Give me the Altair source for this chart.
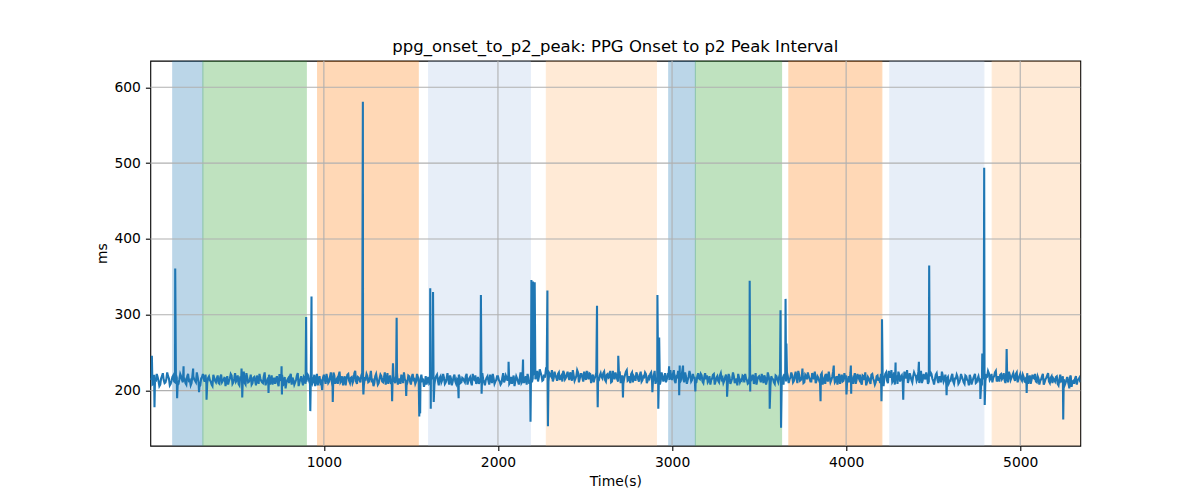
import altair as alt
import pandas as pd

# ---- data -------------------------------------------------------------
title_text = "ppg_onset_to_p2_peak: PPG Onset to p2 Peak Interval"

# baseline samples at t = 5, 15, 25, ... s (ms values)
base_values_a = [
    214, 208, 221, 212, 218, 206, 216, 223, 210, 215, 219, 207, 213, 220, 211, 217, 209, 222, 214, 216,
    210, 219, 213, 207, 220, 215, 211, 218, 205, 216, 222, 212, 209, 217, 214, 208, 221, 213, 216, 210,
    218, 211, 215, 206, 219, 213, 222, 209, 216, 212, 220, 207, 214, 218, 210, 223, 211, 215, 208, 217,
    213, 220, 209, 216, 211, 219, 207, 214, 221, 212, 208, 217, 215, 210, 222, 213, 206, 218, 211, 216,
    219, 208, 214, 211, 220, 206, 215, 212, 218, 209, 222, 213, 216, 210, 221, 214, 207, 219, 212, 217,
    215, 222, 210, 218, 213, 224, 209, 216, 220, 211, 219, 214, 207, 221, 213, 217, 210, 223, 212, 218,
    214, 220, 209, 216, 222, 211, 218, 213, 206, 219, 215, 210, 221, 212, 217, 208, 223, 214, 211, 218,
    213, 219, 208, 216, 221, 210, 215, 207, 220, 212, 218, 214, 209, 222, 211, 216, 213, 205, 219, 214,
    210, 221, 215, 208, 219, 213, 217, 211, 222, 209, 216, 214, 220, 207, 218, 212, 215, 221, 210, 217,
    213, 219, 208, 216, 211, 222, 214, 209, 218, 212, 220, 215, 207, 217, 213, 221, 210, 216, 212, 219,
    214, 208, 217, 211, 220, 213, 209, 218, 215, 206, 219, 212, 216, 210, 221, 214, 208, 217, 213, 211,
    222, 215, 226, 218, 224, 213, 221, 227, 216, 223, 219, 212, 225, 217, 222, 214, 220, 226, 215, 221,
    218, 224, 213, 220, 216, 227, 211, 222, 217, 225, 214, 219, 223, 210, 221, 216, 224, 212, 220, 218,
    223, 214, 221, 217, 226, 212, 219, 224, 215, 222, 210, 220, 216, 225, 213, 219, 222, 211, 217, 224,
    215, 221, 212, 219, 224, 210, 218, 222, 214, 220, 209, 217, 223, 213, 219, 216, 211, 221, 214, 218,
    222, 213, 219, 226, 211, 220, 215, 224, 209, 218, 221, 214, 217, 210, 219, 216, 222, 212, 218, 215,
    211, 219, 214, 221, 208, 217, 213, 220, 215, 210, 218, 212, 222, 209, 216, 219, 213, 207, 217, 214,
    220, 211, 216, 209, 219, 214, 221, 212, 208, 218, 215, 222, 210, 217, 213, 219, 206, 216, 211, 220,
    214, 218, 209, 216, 222, 212, 219, 215, 224, 211, 220, 216, 226, 213, 218, 210, 221, 215, 219, 212,
    223, 215, 210, 219, 213, 221, 208, 217, 222, 212, 218, 214, 225, 211, 219, 216, 209, 221, 213, 217,
    210, 219, 224, 213, 218, 209, 222, 215, 211, 220, 214, 207, 218, 212, 221, 216, 208, 219, 213, 210,
    216, 206, 222, 213, 226, 217, 211, 224, 215, 209, 221, 218, 212, 225, 216, 210, 223, 214, 219, 221,
    213, 225, 217, 210, 222, 215, 219, 212, 224, 216, 208, 221, 214, 218, 211, 220, 215, 209, 218, 213,
    219, 212, 216, 221, 209, 215, 218, 211, 220, 214, 207, 217, 212, 219, 210, 216, 213, 206, 215, 211,
    220, 226, 214, 222, 217, 224, 212, 219, 221, 215, 223, 210, 218, 225, 214, 220, 216, 222, 211, 219,
    215, 221, 212, 218, 209, 220, 214, 217, 222, 211, 216, 213, 219, 208, 215, 220, 212, 217, 210, 214,
    218, 209, 215, 212, 219, 207, 214, 211, 217, 205, 213, 216, 208, 215, 211,
]
# baseline samples at t = 0, 10, 20, ... s
base_values_b = [
    211, 217, 209, 215, 222, 213, 208, 219, 214, 211, 224, 216, 209, 218, 212, 221, 207, 215, 219, 211,
    216, 208, 222, 214, 210, 219, 213, 224, 211, 207, 218, 215, 221, 210, 219, 212, 206, 217, 211, 220,
    209, 221, 213, 218, 212, 208, 216, 220, 211, 223, 214, 209, 219, 213, 225, 208, 217, 212, 221, 210,
    218, 207, 215, 222, 213, 210, 224, 211, 217, 208, 220, 213, 209, 219, 206, 216, 221, 212, 203, 214,
    210, 222, 217, 208, 214, 223, 211, 219, 207, 216, 212, 220, 209, 218, 213, 206, 222, 215, 210, 201,
    221, 209, 216, 212, 224, 205, 220, 214, 209, 225, 213, 207, 219, 215, 222, 210, 218, 213, 226, 209,
    217, 211, 223, 208, 215, 219, 212, 226, 214, 210, 222, 208, 216, 219, 211, 224, 213, 209, 220, 212,
    219, 210, 223, 212, 209, 217, 224, 213, 211, 219, 208, 222, 215, 212, 218, 207, 221, 214, 210, 208,
    218, 212, 224, 211, 216, 221, 207, 219, 214, 217, 211, 223, 208, 216, 212, 221, 209, 213, 218, 211,
    216, 211, 222, 213, 218, 207, 215, 220, 212, 209, 217, 223, 211, 214, 219, 208, 217, 222, 209, 214,
    219, 212, 210, 223, 214, 217, 221, 211, 209, 220, 213, 216, 208, 224, 212, 210, 219, 222, 209, 226,
    216, 224, 219, 212, 228, 220, 214, 217, 225, 212, 221, 227, 216, 220, 213, 224, 218, 212, 223, 217,
    225, 214, 221, 227, 213, 219, 224, 216, 222, 212, 220, 226, 215, 222, 218, 211, 219, 227, 214, 223,
    216, 225, 212, 222, 218, 211, 226, 215, 220, 212, 223, 217, 209, 221, 227, 214, 210, 224, 219, 213,
    221, 212, 225, 214, 218, 222, 213, 216, 224, 211, 226, 213, 219, 208, 224, 212, 223, 215, 220, 227,
    214, 227, 210, 218, 222, 213, 228, 211, 219, 214, 226, 212, 222, 217, 211, 223, 215, 220, 210, 223,
    220, 213, 208, 216, 222, 212, 219, 211, 223, 217, 213, 221, 209, 218, 212, 224, 210, 216, 222, 211,
    213, 219, 222, 214, 210, 221, 216, 209, 223, 214, 219, 211, 217, 220, 208, 224, 212, 219, 215, 209,
    219, 211, 222, 213, 208, 218, 224, 210, 217, 220, 213, 225, 210, 221, 214, 223, 211, 219, 224, 216,
    212, 220, 225, 213, 217, 210, 223, 214, 209, 219, 225, 211, 218, 220, 213, 208, 222, 216, 212, 223,
    218, 213, 211, 220, 209, 223, 214, 218, 221, 208, 219, 224, 211, 216, 209, 222, 213, 211, 220, 217,
    222, 212, 217, 224, 210, 221, 227, 213, 208, 220, 225, 212, 220, 210, 221, 227, 215, 219, 211, 224,
    220, 216, 210, 226, 214, 218, 224, 209, 219, 222, 213, 215, 223, 210, 218, 225, 212, 221, 216, 210,
    213, 222, 209, 216, 218, 211, 222, 215, 209, 219, 213, 221, 208, 216, 222, 211, 219, 214, 208, 219,
    213, 219, 223, 216, 211, 219, 226, 215, 212, 222, 217, 214, 225, 211, 221, 217, 223, 213, 224, 215,
    222, 213, 218, 211, 223, 215, 209, 221, 216, 212, 219, 208, 215, 222, 211, 217, 223, 210, 219, 216,
    212, 219, 207, 221, 213, 215, 210, 218, 206, 220, 212, 209, 219, 214, 217,
]
times_a = [5 + 10 * i for i in range(len(base_values_a))]
times_b = [10 * i for i in range(len(base_values_b))]

# spikes / dips
spike_t = [12, 27, 146, 157, 194, 249, 283, 326, 527, 531, 682, 757, 759, 898, 922, 929,
           1051, 1224, 1227, 1392, 1397, 1418, 1473, 1548, 1553, 1611, 1614, 1627, 1631,
           1774, 1902, 1906, 2061, 2144, 2187, 2192, 2201, 2211, 2284, 2287, 2569, 2573,
           2691, 2718, 2887, 2916, 2921, 2926, 2983, 3041, 3044, 3063, 3134, 3316, 3446,
           3449, 3561, 3623, 3626, 3652, 3657, 3749, 3853, 3929, 4002, 4027, 4029, 4203,
           4206, 4284, 4328, 4418, 4477, 4577, 4771, 4782, 4793, 4796, 4922, 5037, 5247, 5282]
spike_v = [246, 178, 361, 190, 232, 229, 198, 188, 229, 191, 197, 232, 195, 297, 173, 324,
           185, 581, 195, 186, 236, 296, 193, 166, 170, 335, 176, 330, 185,
           190, 326, 196, 238, 241, 159, 346, 344, 343, 332, 153, 312, 178,
           246, 191, 198, 326, 176, 270, 232, 194, 233, 233, 199, 192, 345,
           199, 176, 306, 151, 321, 262, 229, 186, 233, 195, 233, 196, 186,
           294, 237, 188, 238, 365, 194, 189, 249, 494, 181, 255, 197, 162, 203]
assert len(spike_t) == len(spike_v)

# shaded phases
band_start = [132, 305, 964, 1602, 2278, 2981, 3134, 3671, 4251, 4839]
band_end = [305, 899, 1542, 2186, 2910, 3134, 3629, 4205, 4791, 5345]
band_color = ["#1f77b4", "#2ca02c", "#ff7f0e", "#aec7e8", "#ffbb78",
              "#1f77b4", "#2ca02c", "#ff7f0e", "#aec7e8", "#ffbb78"]

x_ticks = [1000, 2000, 3000, 4000, 5000]
y_ticks = [200, 300, 400, 500, 600]

x_domain = [3, 5345]
y_domain = [127.4, 635.1]

# ---- frames -------------------------------------------------------------
line_df = pd.DataFrame({
    "t": times_a + times_b + spike_t,
    "v": base_values_a + base_values_b + spike_v,
}).sort_values("t", kind="stable")
line_df = line_df[line_df["t"] >= x_domain[0]]
band_df = pd.DataFrame({"t": band_start, "t2": band_end, "c": band_color})
gx_df = pd.DataFrame({"t": x_ticks})
gy_df = pd.DataFrame({"v": y_ticks})

xscale = alt.Scale(domain=x_domain, nice=False, zero=False)
yscale = alt.Scale(domain=y_domain, nice=False, zero=False)
xaxis = alt.Axis(values=x_ticks, format="d", title="Time(s)", grid=False,
                 labelPadding=4.5, titlePadding=6)
yaxis = alt.Axis(values=y_ticks, format="d", title="ms", grid=False,
                 labelPadding=5, titlePadding=4)

bands = alt.Chart(band_df).mark_rect(opacity=0.3, strokeWidth=1.1, clip=True).encode(
    x=alt.X("t:Q", scale=xscale, axis=xaxis),
    x2="t2:Q",
    color=alt.Color("c:N", scale=None),
    stroke=alt.Stroke("c:N", scale=None),
)

grid_x = alt.Chart(gx_df).mark_rule(color="#b0b0b0", strokeWidth=1.1).encode(
    x=alt.X("t:Q", scale=xscale, axis=xaxis)
)
grid_y = alt.Chart(gy_df).mark_rule(color="#b0b0b0", strokeWidth=1.1).encode(
    y=alt.Y("v:Q", scale=yscale, axis=yaxis)
)

line = alt.Chart(line_df).mark_line(color="#1f77b4", strokeWidth=2.1, clip=True).encode(
    x=alt.X("t:Q", scale=xscale, axis=xaxis),
    y=alt.Y("v:Q", scale=yscale, axis=yaxis),
    order="t:Q",
)

chart = alt.layer(bands, grid_x, grid_y, line).properties(
    width=930,
    height=385,
    autosize=alt.AutoSizeParams(type="none"),
    padding={"left": 142.3, "top": 52.7, "right": 100, "bottom": 50},
    title=alt.Title(title_text, fontSize=16.5, font="DejaVu Sans", fontWeight="normal",
                    color="black", anchor="middle", offset=5),
).configure_view(
    stroke="black", strokeWidth=1.1
).configure_axis(
    domain=False,
    tickColor="black", tickSize=4.9, tickWidth=1.1,
    labelFont="DejaVu Sans", labelFontSize=13.9, labelColor="black",
    titleFont="DejaVu Sans", titleFontSize=13.9, titleFontWeight="normal", titleColor="black",
)

chart.save("out.html", embed_options={"renderer": "svg", "actions": False})
